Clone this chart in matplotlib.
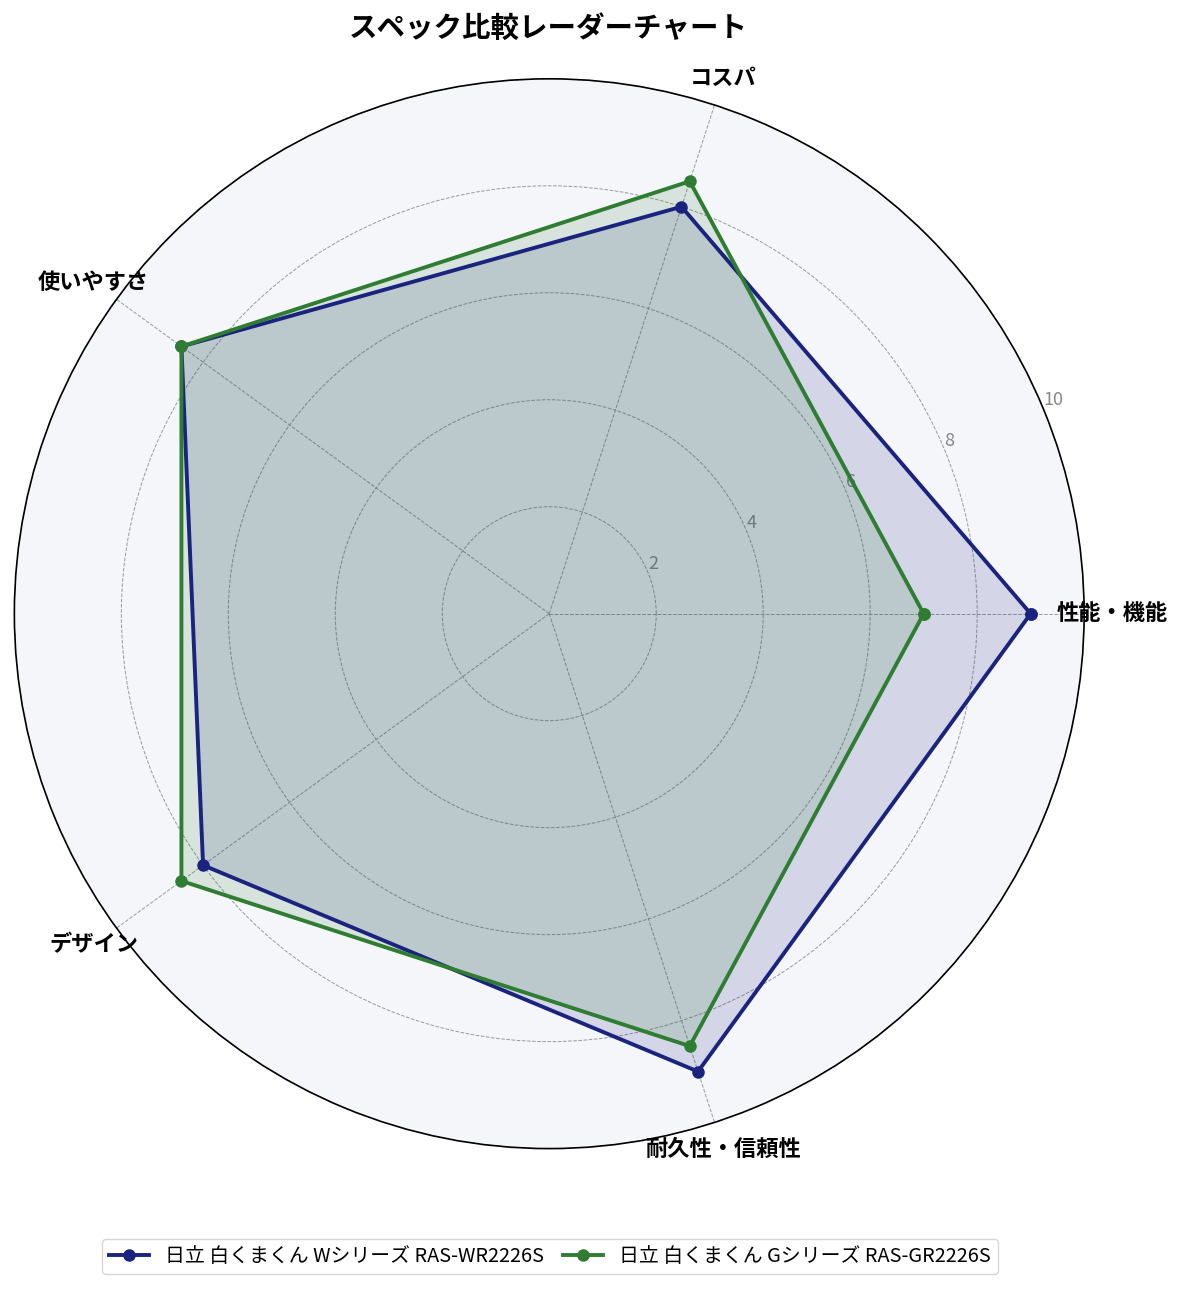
import numpy as np
import matplotlib.pyplot as plt

plt.rcParams['font.family'] = ['Noto Sans CJK JP', 'DejaVu Sans']

# データ
categories = ['性能・機能', 'コスパ', '使いやすさ', 'デザイン', '耐久性・信頼性']
series_names = ['日立 白くまくん Wシリーズ RAS-WR2226S', '日立 白くまくん Gシリーズ RAS-GR2226S']
scores_w = [9.0, 8.0, 8.5, 8.0, 9.0]
scores_g = [7.0, 8.5, 8.5, 8.5, 8.5]
r_ticks = [2, 4, 6, 8, 10]

COLORS = ['#1a237e', '#2e7d32']

angles = np.linspace(0, 2 * np.pi, len(categories), endpoint=False).tolist()
angles_closed = angles + angles[:1]

fig = plt.figure(figsize=(11.85, 12.92), dpi=100)
ax = fig.add_axes([0.012, 0.111, 0.903, 0.828], polar=True)
ax.set_facecolor('#f5f6fa')

for name, vals, col in zip(series_names, [scores_w, scores_g], COLORS):
    v = vals + vals[:1]
    ax.plot(angles_closed, v, color=col, linewidth=2.8, marker='o', markersize=8, label=name, zorder=3)
    ax.fill(angles_closed, v, color=col, alpha=0.15, zorder=2)

ax.set_ylim(0, 10)
ax.set_yticks(r_ticks)
ax.set_yticklabels([str(t) for t in r_ticks], color='#888888', fontsize=13)
ax.set_rlabel_position(22.5)
ax.set_xticks(angles)
ax.set_xticklabels(categories, fontsize=16, fontweight='bold')
ax.tick_params(axis='x', pad=10)
ax.grid(color='#999999', linestyle='--', linewidth=0.7)
ax.spines['polar'].set_color('black')
ax.spines['polar'].set_linewidth(1.2)

fig.text(0.463, 0.978, 'スペック比較レーダーチャート', fontsize=20.5, fontweight='bold',
         ha='center', va='center')
fig.legend(loc='lower center', bbox_to_anchor=(0.464, 0.006), ncol=2, fontsize=14.3,
           handlelength=2, columnspacing=1.0, borderpad=0.35)

plt.savefig('out.png', dpi=100)
